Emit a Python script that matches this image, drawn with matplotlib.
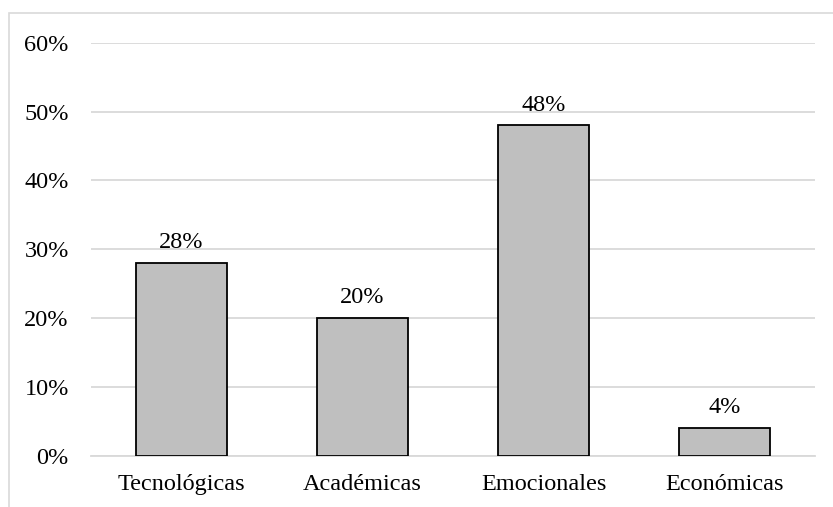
import matplotlib.pyplot as plt
from matplotlib.patches import Rectangle
from matplotlib.ticker import PercentFormatter

# datos
categorias = ['Tecnológicas', 'Académicas', 'Emocionales', 'Económicas']
valores = [0.28, 0.20, 0.48, 0.04]
etiquetas = ['28%', '20%', '48%', '4%']

plt.rcParams['font.family'] = ['Liberation Serif', 'DejaVu Serif']

W, H = 833, 507
fig = plt.figure(figsize=(W / 100, H / 100), dpi=100)

# marco gris claro del gráfico
fig.patches.append(Rectangle((9 / W, -0.1), 1.2, 1 - 13 / H + 0.1,
                             transform=fig.transFigure, fill=False,
                             edgecolor='#d9d9d9', linewidth=1.2))

ax = fig.add_axes([91 / W, (H - 455.7) / H, (815 - 91) / W, (455.7 - 42.7) / H])

x = range(len(categorias))
ax.bar(x, valores, width=0.5, color='#bfbfbf', edgecolor='black', linewidth=1.3, zorder=3)

for xi, v, t in zip(x, valores, etiquetas):
    ax.annotate(t, (xi, v), xytext=(0, 7), textcoords='offset points',
                ha='center', va='bottom', fontsize=17.5)

ax.set_xlim(-0.5, len(categorias) - 0.5)
ax.set_ylim(0, 0.6)
ax.set_yticks([0, 0.1, 0.2, 0.3, 0.4, 0.5, 0.6])
ax.yaxis.set_major_formatter(PercentFormatter(1.0, decimals=0))
ax.set_xticks(list(x))
ax.set_xticklabels(categorias)

ax.grid(axis='y', color='#d9d9d9', linewidth=1.3, zorder=0)
for s in ['top', 'right', 'left']:
    ax.spines[s].set_visible(False)
ax.spines['bottom'].set_color('#d9d9d9')
ax.spines['bottom'].set_linewidth(1.3)
ax.tick_params(axis='y', length=0, pad=16, labelsize=17.5)
ax.tick_params(axis='x', length=0, pad=13, labelsize=17.5)

fig.savefig('out.png', dpi=100)
